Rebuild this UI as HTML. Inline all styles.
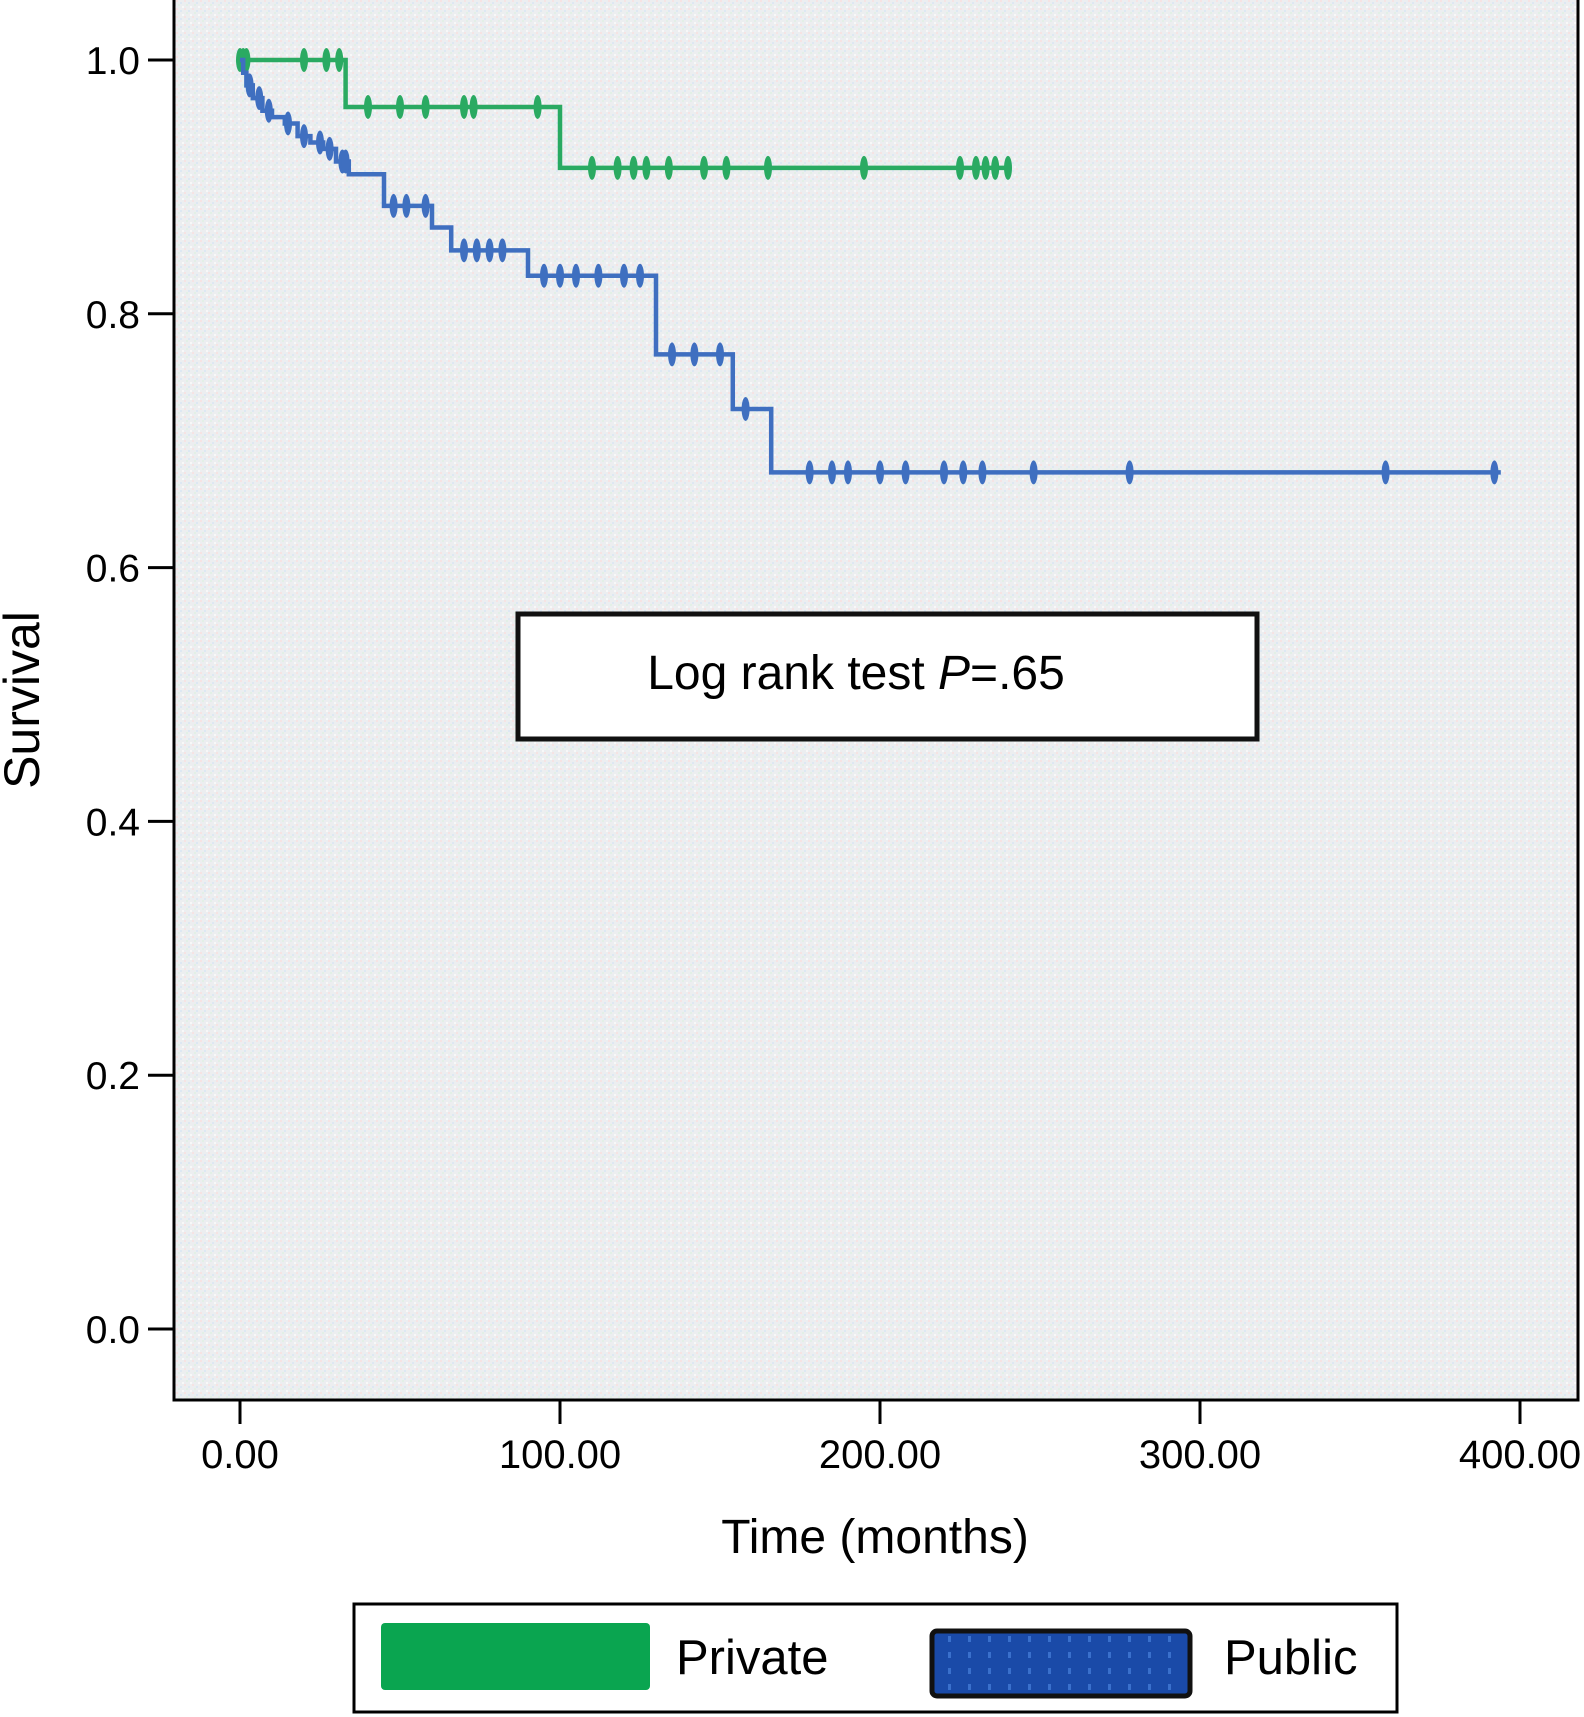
<!DOCTYPE html>
<html><head><meta charset="utf-8"><style>
html,body{margin:0;padding:0;background:#fff;}
svg{display:block;font-family:"Liberation Sans",sans-serif;}
</style></head><body>
<svg id="chart" width="1584" height="1717" viewBox="0 0 1584 1717">
<defs>
<pattern id="noise" width="8" height="8" patternUnits="userSpaceOnUse">
<rect width="8" height="8" fill="#eceef0"/>
<rect x="0" y="0" width="2" height="2" fill="#f6e3e3"/>
<rect x="4" y="2" width="2" height="2" fill="#dde8f3"/>
<rect x="2" y="4" width="2" height="2" fill="#e2f0e6"/>
<rect x="6" y="6" width="2" height="2" fill="#f8f8f8"/>
</pattern>
<pattern id="bluefill" width="20" height="16" patternUnits="userSpaceOnUse">
<rect width="20" height="16" fill="#1a4aa8"/>
<rect x="8" y="4" width="3" height="6" fill="#3a70cc"/>
</pattern>
</defs>
<rect x="174" y="0" width="1404" height="1400" fill="url(#noise)"/>
<g id="marks"></g>
<path d="M174 0 V1400 H1578 V0" fill="none" stroke="#000" stroke-width="3"/>
<g id="axes"></g>
<text x="26" y="700" font-size="50" text-anchor="middle" transform="rotate(-90 26 700)" dominant-baseline="middle">Survival</text>
<text x="875" y="1553" font-size="48" text-anchor="middle">Time (months)</text>
<rect x="518" y="614" width="739" height="125" fill="#fff" stroke="#111" stroke-width="5"/>
<text x="856" y="689" font-size="48" text-anchor="middle">Log rank test <tspan font-style="italic">P</tspan>=.65</text>
<g>
<rect x="354" y="1604" width="1043" height="108" fill="#fff" stroke="#000" stroke-width="3"/>
<rect x="381" y="1623" width="269" height="67" rx="4" fill="#0aa550"/>
<text x="676" y="1674" font-size="49">Private</text>
<rect x="932" y="1631" width="258" height="65" rx="5" fill="url(#bluefill)" stroke="#111" stroke-width="5"/>
<text x="1224" y="1674" font-size="49">Public</text>
</g>
</svg>
<script>
const xTicks = [0, 100, 200, 300, 400];
const xTickLabels = ["0.00", "100.00", "200.00", "300.00", "400.00"];
const yTicks = [0, 0.2, 0.4, 0.6, 0.8, 1.0];
const yTickLabels = ["0.0", "0.2", "0.4", "0.6", "0.8", "1.0"];
const privateTimes = [0, 33, 100, 240];
const privateSurv = [1.0, 0.963, 0.915, 0.915];
const privateCensor = [0, 1, 2, 20, 27, 31, 40, 50, 58, 70, 73, 93, 110, 118, 123, 127, 134, 145, 152, 165, 195, 225, 230, 233, 236, 240];
const publicTimes = [0, 1, 2, 4, 7, 10, 14, 18, 22, 26, 30, 34, 45, 60, 66, 90, 130, 154, 166, 394];
const publicSurv = [1.0, 0.99, 0.98, 0.97, 0.96, 0.955, 0.95, 0.94, 0.935, 0.93, 0.92, 0.91, 0.885, 0.868, 0.85, 0.83, 0.768, 0.725, 0.675, 0.675];
const publicCensor = [3, 6, 9, 15, 20, 25, 28, 32, 33, 48, 52, 58, 70, 74, 78, 82, 95, 100, 105, 112, 120, 125, 135, 142, 150, 158, 178, 185, 190, 200, 208, 220, 226, 232, 248, 278, 358, 392];

const NS = "http://www.w3.org/2000/svg";
function xs(v){ return 240 + v * 3.2; }
function ys(v){ return 1329 - v * 1269; }
function survAt(times, surv, t){ let s = surv[0]; for (let i = 0; i < times.length; i++){ if (times[i] <= t) s = surv[i]; } return s; }
function mk(tag, attrs, parent){ const e = document.createElementNS(NS, tag); for (const k in attrs) e.setAttribute(k, attrs[k]); parent.appendChild(e); return e; }

const axes = document.getElementById('axes');
xTicks.forEach((t, i) => {
  const l = mk('line', {x1: xs(t), x2: xs(t), y1: 1400, y2: 1424, stroke: '#000', 'stroke-width': 3}, axes);
  
  
  const tx = mk('text', {x: xs(t), y: 1468, 'font-size': 40, 'text-anchor': 'middle'}, axes);
  tx.textContent = xTickLabels[i];
  
  
});
yTicks.forEach((t, i) => {
  const l = mk('line', {x1: 148, x2: 174, y1: ys(t), y2: ys(t), stroke: '#000', 'stroke-width': 3}, axes);
  
  
  const tx = mk('text', {x: 140, y: ys(t) + 14, 'font-size': 39, 'text-anchor': 'end'}, axes);
  tx.textContent = yTickLabels[i];
  
  
});

const marks = document.getElementById('marks');
function drawSeries(times, surv, censor, color, name){
  let d = 'M' + xs(times[0]) + ' ' + ys(surv[0]);
  for (let i = 1; i < times.length; i++){
    d += ' H' + xs(times[i]) + ' V' + ys(surv[i]);
  }
  const p = mk('path', {d: d, fill: 'none', stroke: color, 'stroke-width': 4.5}, marks);
  
  
  censor.forEach(c => {
    const y = ys(survAt(times, surv, c));
    const m = mk('ellipse', {cx: xs(c), cy: y, rx: 4, ry: 12, fill: color}, marks);
    
    
  });
}
drawSeries(privateTimes, privateSurv, privateCensor, '#2aaa62', 'private');
drawSeries(publicTimes, publicSurv, publicCensor, '#3f6fc0', 'public');
</script>
</body></html>
